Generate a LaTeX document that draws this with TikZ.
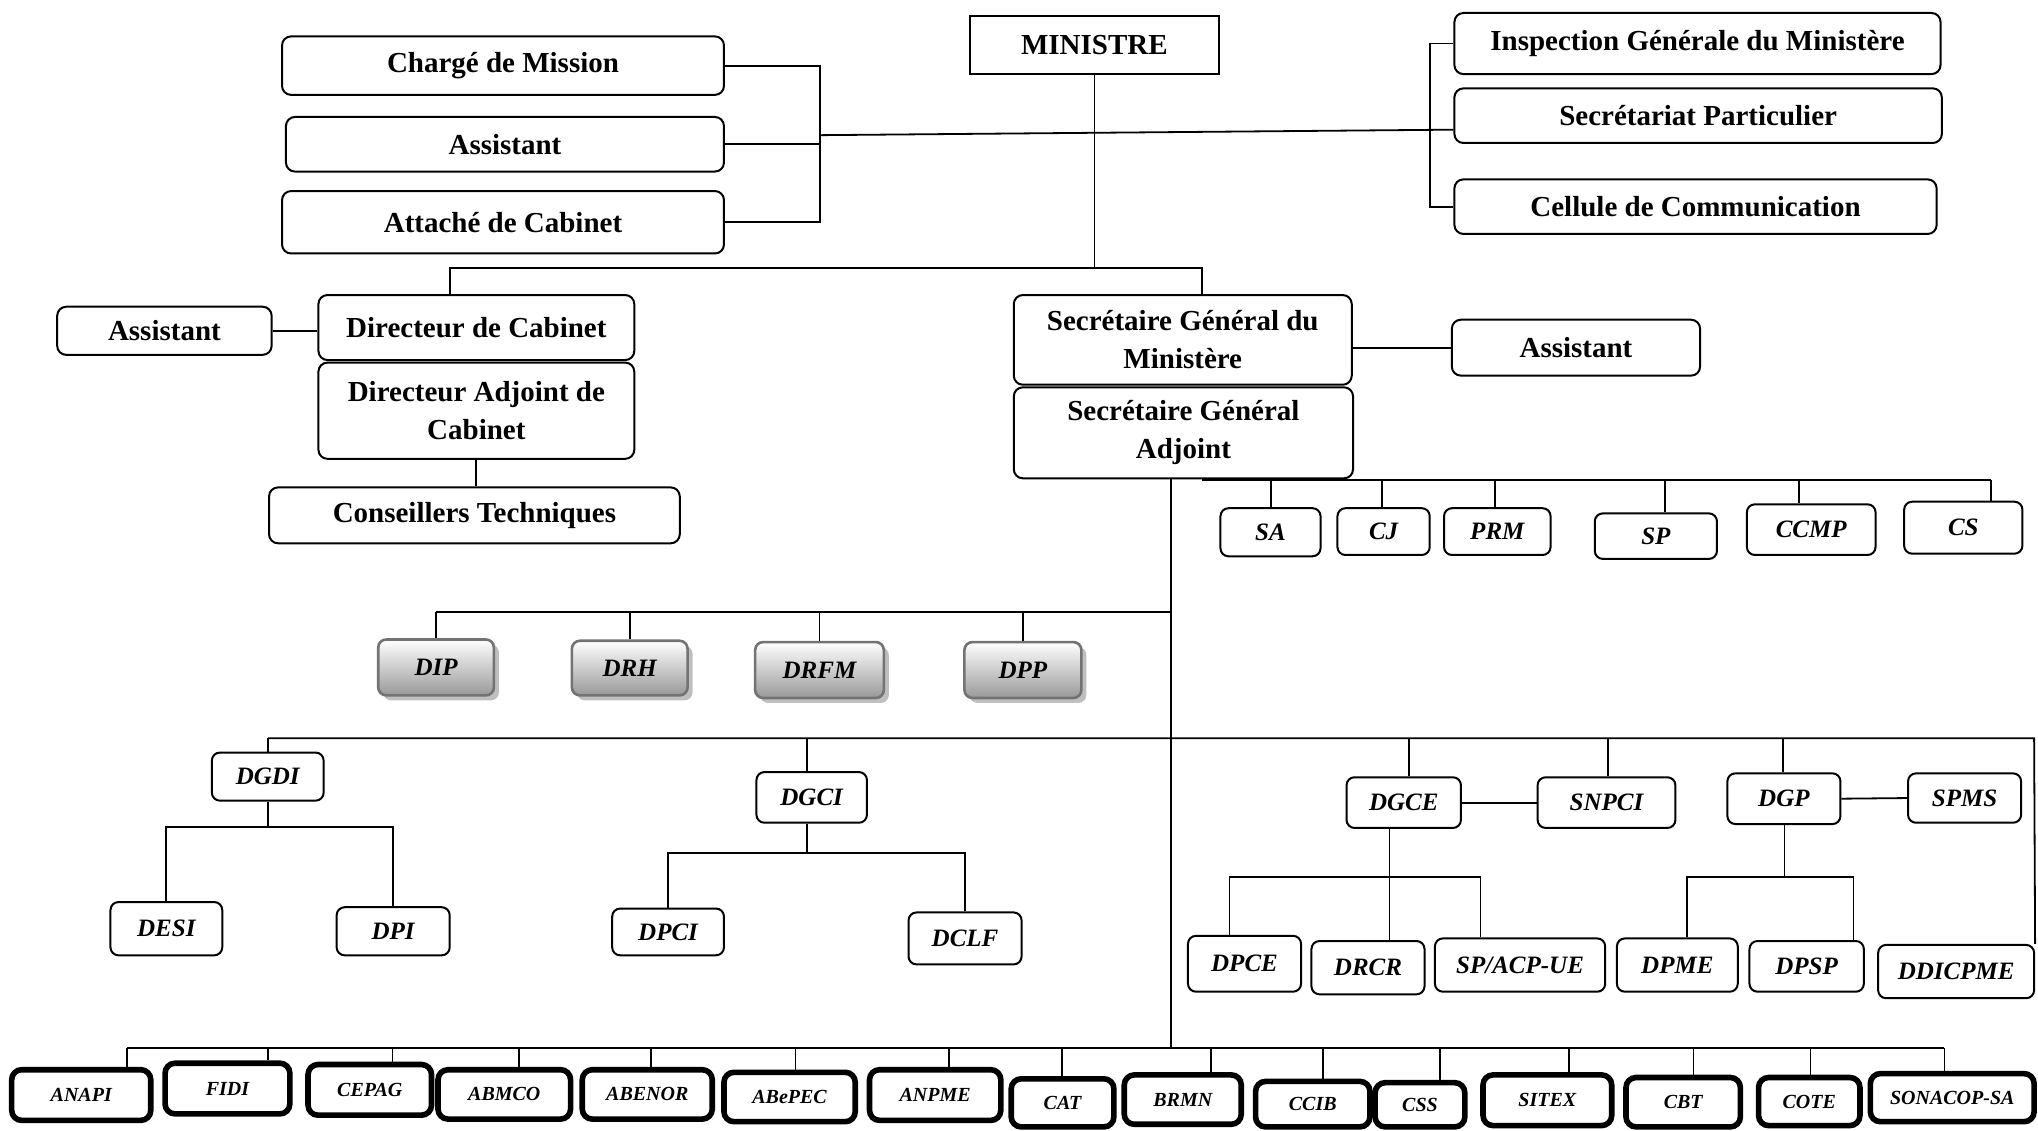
\documentclass[tikz,border=0pt]{standalone}
\usepackage{fontspec}
\setmainfont{Liberation Serif}
\usetikzlibrary{shadows}
\newcommand{\bx}[7]{\node[#6, minimum width={(#4-#2)*0.65pt}, minimum height={(#5-#3)*0.65pt}] (#1) at ({(#2+#4)/2},{(#3+#5)/2}) {#7};}
\tikzset{
  mbox/.style={draw, line width=1pt, inner sep=0pt, font=\fontsize{14.5}{19}\selectfont\bfseries},
  box/.style={draw, rounded corners=4.5pt, line width=1pt, inner sep=0pt, align=center, font=\fontsize{14.5}{19}\selectfont\bfseries},
  sbox/.style={draw, rounded corners=4pt, line width=1pt, inner sep=0pt, font=\fontsize{12.5}{15}\selectfont\bfseries\itshape},
  gbox/.style={draw=black!55, rounded corners=4pt, line width=1.3pt, inner sep=0pt, top color=white, bottom color=black!40,
    drop shadow={shadow xshift=2.5pt, shadow yshift=-2.5pt, fill=black!25, opacity=1},
    font=\fontsize{12.5}{15}\selectfont\bfseries\itshape},
  tbox/.style={draw, rounded corners=5pt, line width=2.8pt, inner sep=0pt, font=\fontsize{10}{12}\selectfont\bfseries\itshape},
  conn/.style={line width=0.9pt}
}
\begin{document}
\begin{tikzpicture}[x=0.65pt, y=-0.65pt]
\useasboundingbox[fill=white] (0,0) rectangle (1568,870);
% top level
\bx{min}{746}{12}{938}{57}{mbox}{MINISTRE}
\bx{charge}{217}{28}{557}{73}{box}{Chargé de Mission}
\bx{asst1}{220}{90}{557}{132}{box}{Assistant}
\bx{attache}{217}{147}{557}{195}{box}{Attaché de Cabinet}
\bx{insp}{1119}{10}{1493}{57}{box}{Inspection Générale du Ministère}
\bx{secp}{1119}{68}{1494}{110}{box}{Secrétariat Particulier}
\bx{cell}{1119}{138}{1490}{180}{box}{Cellule de Communication}
\bx{dircab}{245}{227}{488}{277}{box}{Directeur de Cabinet}
\bx{asst2}{44}{236}{209}{273}{box}{Assistant}
\bx{dac}{245}{279}{488}{353}{box}{Directeur Adjoint de\\Cabinet}
\bx{ct}{207}{375}{523}{418}{box}{Conseillers Techniques}
\bx{sg}{780}{227}{1040}{296}{box}{Secrétaire Général du\\Ministère}
\bx{asst3}{1117}{246}{1308}{289}{box}{Assistant}
\bx{sga}{780}{298}{1041}{368}{box}{Secrétaire Général\\Adjoint}
% SGA row
\bx{sa}{939}{391}{1016}{428}{sbox}{SA}
\bx{cj}{1029}{391}{1100}{427}{sbox}{CJ}
\bx{prm}{1111}{391}{1193}{427}{sbox}{PRM}
\bx{sp}{1227}{395}{1321}{430}{sbox}{SP}
\bx{ccmp}{1344}{388}{1443}{427}{sbox}{CCMP}
\bx{cs}{1465}{386}{1556}{426}{sbox}{CS}
% gray row
\bx{dip}{291}{492}{380}{535}{gbox}{DIP}
\bx{drh}{440}{493}{529}{535}{gbox}{DRH}
\bx{drfm}{581}{494}{680}{537}{gbox}{DRFM}
\bx{dpp}{742}{494}{832}{537}{gbox}{DPP}
% DG row
\bx{dgdi}{163}{579}{249}{616}{sbox}{DGDI}
\bx{desi}{85}{694}{171}{735}{sbox}{DESI}
\bx{dpi}{259}{698}{346}{735}{sbox}{DPI}
\bx{dgci}{582}{594}{667}{633}{sbox}{DGCI}
\bx{dpci}{471}{699}{557}{735}{sbox}{DPCI}
\bx{dclf}{699}{702}{786}{742}{sbox}{DCLF}
\bx{dgce}{1036}{598}{1124}{637}{sbox}{DGCE}
\bx{snpci}{1183}{598}{1289}{637}{sbox}{SNPCI}
\bx{dgp}{1329}{595}{1416}{634}{sbox}{DGP}
\bx{spms}{1468}{595}{1555}{633}{sbox}{SPMS}
\bx{dpce}{914}{720}{1001}{763}{sbox}{DPCE}
\bx{drcr}{1009}{724}{1096}{765}{sbox}{DRCR}
\bx{spacp}{1104}{722}{1235}{763}{sbox}{SP/ACP-UE}
\bx{dpme}{1244}{722}{1337}{763}{sbox}{DPME}
\bx{dpsp}{1346}{724}{1434}{763}{sbox}{DPSP}
\bx{ddic}{1445}{727}{1565}{768}{sbox}{DDICPME}
% bottom row
\bx{anapi}{9}{823}{116}{862}{tbox}{ANAPI}
\bx{fidi}{127}{818}{223}{857}{tbox}{FIDI}
\bx{cepag}{237}{819}{332}{858}{tbox}{CEPAG}
\bx{abmco}{337}{823}{439}{861}{tbox}{ABMCO}
\bx{abenor}{448}{823}{548}{861}{tbox}{ABENOR}
\bx{abepec}{557}{825}{658}{863}{tbox}{ABePEC}
\bx{anpme}{669}{823}{770}{862}{tbox}{ANPME}
\bx{cat}{778}{830}{857}{867}{tbox}{CAT}
\bx{brmn}{865}{827}{955}{865}{tbox}{BRMN}
\bx{ccib}{966}{832}{1054}{867}{tbox}{CCIB}
\bx{css}{1058}{833}{1127}{867}{tbox}{CSS}
\bx{sitex}{1141}{827}{1240}{866}{tbox}{SITEX}
\bx{cbt}{1251}{829}{1339}{867}{tbox}{CBT}
\bx{cote}{1353}{829}{1431}{866}{tbox}{COTE}
\bx{sonacop}{1439}{826}{1565}{863}{tbox}{SONACOP-SA}
% connectors
\begin{scope}[conn]
\coordinate (bl) at (631,104);
\draw (charge.east) -- (charge.east -| bl) -- (attache.east -| bl) -- (attache.east);
\draw (asst1.east) -- (asst1.east -| bl);
\draw (bl) -- ([yshift=-7pt]secp.west);
\coordinate (br) at (1100,0);
\draw (insp.west) -- (insp.west -| br) -- (cell.west -| br) -- (cell.west);
\coordinate (tdc) at (346,206);
\coordinate (tsg) at (925,206);
\draw (min.south) -- (min.south |- tdc);
\draw (dircab.north -| tdc) -- (tdc) -- (tsg) -- (sg.north -| tsg);
\draw (asst2.east) -- (asst2.east -| dircab.west);
\draw (dac.south) -- (dac.south |- ct.north);
\draw (asst3.west) -- (asst3.west -| sg.east);
% trunk
\coordinate (tr) at (901,806);
\draw (sga.south -| tr) -- (tr);
% SGA row
\coordinate (h1) at (925,369);
\coordinate (h1e) at (1532,369);
\draw (h1) -- (h1e);
\foreach \n/\x in {sa/978,cj/1063,prm/1150,sp/1281,ccmp/1384,cs/1532}
  \draw (\n.north -| \x,369) -- (\x,369);
% gray row
\coordinate (h2) at (901,471);
\draw (dip.north |- h2) -- (h2);
\foreach \n in {dip,drh,drfm,dpp} \draw (\n.north) -- (\n.north |- h2);
% DG row
\coordinate (h3s) at (206,568);
\coordinate (h3e) at (1565,568);
\draw (h3s) -- (h3e) -- (ddic.north east);
\foreach \n/\x in {dgdi/206,dgci/621,dgce/1084,snpci/1237,dgp/1372}
  \draw (\n.north -| \x,568) -- (\x,568);
% DGDI subtree
\coordinate (h4) at (206,636);
\draw (dgdi.south) -- (h4);
\draw (desi.north) |- (h4) -| (dpi.north);
% DGCI subtree
\coordinate (h5) at (621,656);
\draw (dgci.south -| h5) -- (h5);
\draw (dpci.north) |- (h5) -| (dclf.north);
% DGCE subtree
\coordinate (h6) at (1069,675);
\coordinate (h6a) at (946,675);
\coordinate (h6b) at (1139,675);
\draw (dgce.south -| h6) -- (drcr.north -| h6);
\draw (dpce.north -| h6a) -- (h6a) -- (h6b) -- (spacp.north -| h6b);
\draw (dgce.east) -- (snpci.west);
% DGP subtree
\coordinate (h7) at (1373,675);
\coordinate (h7a) at (1298,675);
\coordinate (h7b) at (1426,675);
\draw (dgp.south -| h7) -- (h7);
\draw (dpme.north -| h7a) -- (h7a) -- (h7b) -- (dpsp.north -| h7b);
\draw (dgp.east) -- (spms.west);
% bottom row
\coordinate (h8s) at (98,806);
\coordinate (h8e) at (1496,806);
\draw (h8s) -- (h8e);
\foreach \n/\x in {anapi/98,fidi/206,cepag/302,abmco/399,abenor/501,abepec/612,anpme/730,cat/817,brmn/932,ccib/1018,css/1108,sitex/1207,cbt/1303,cote/1393,sonacop/1496}
  \draw (\n.north -| \x,806) -- (\x,806);
\end{scope}
\end{tikzpicture}
\end{document}
